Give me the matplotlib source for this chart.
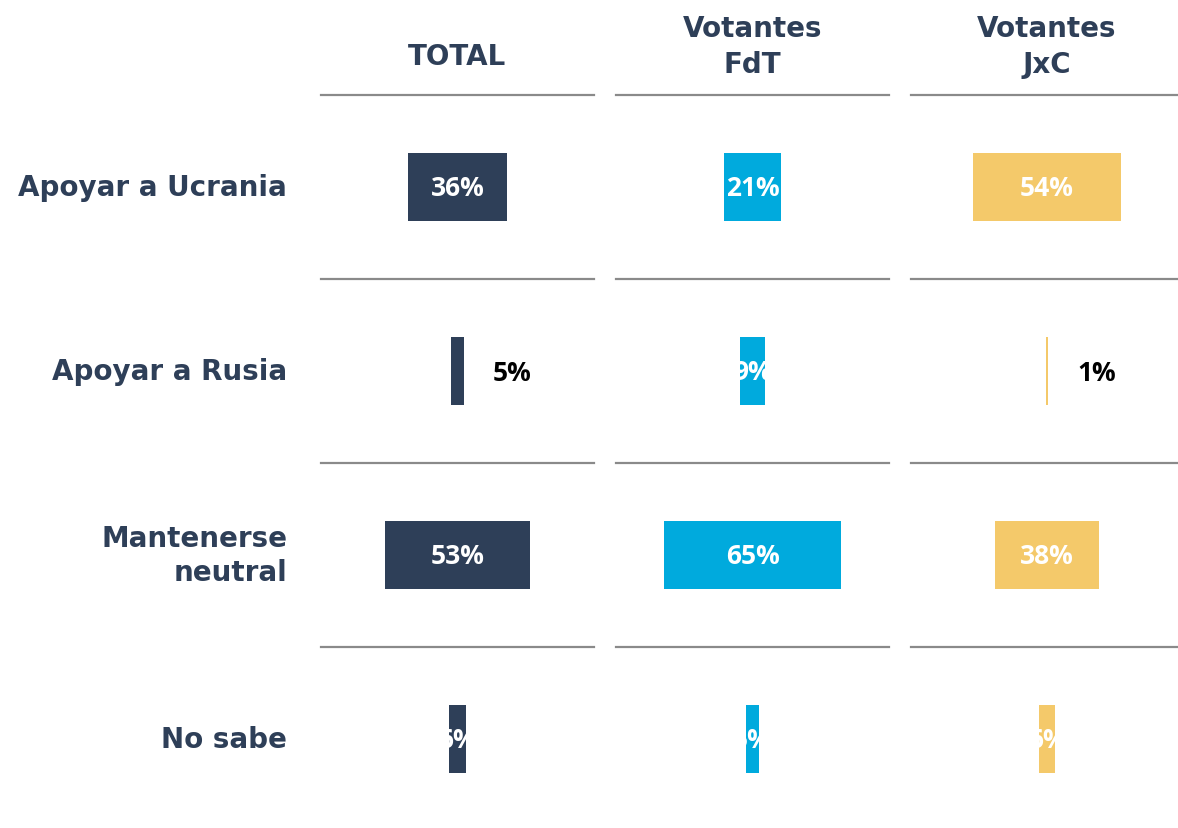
import matplotlib
matplotlib.use("Agg")
import matplotlib.pyplot as plt

# datos
categorias = ["Apoyar a Ucrania", "Apoyar a Rusia", "Mantenerse\nneutral", "No sabe"]
grupos = ["TOTAL", "Votantes\nFdT", "Votantes\nJxC"]
total = [36, 5, 53, 6]
fdt = [21, 9, 65, 5]
jxc = [54, 1, 38, 6]
valores = [total, fdt, jxc]

colores = ["#2E3F58", "#00AADD", "#F4C96A"]
# etiquetas fuera de la barra (igual que el original)
fuera = [[False, True, False, False],
         [False, False, False, False],
         [False, True, False, False]]

TXT = "#2E3F58"
W, H = 1178, 829
PX = 2.73  # pixeles por punto porcentual

fig = plt.figure(figsize=(W / 100, H / 100), dpi=100)

# (izquierda, derecha, centro de las barras) en pixeles
paneles = [(321, 594, 457.5), (616, 889, 752.5), (911, 1177, 1047)]
y_top, y_bot = 96, 832

ejes = []
for i, (x0, x1, xc) in enumerate(paneles):
    ax = fig.add_axes([x0 / W, 1 - y_bot / H, (x1 - x0) / W, (y_bot - y_top) / H])
    ax.set_xlim(-(xc - x0) / PX, (x1 - xc) / PX)
    ax.set_ylim(3.5, -0.5)
    for s in ax.spines.values():
        s.set_visible(False)
    ax.set_xticks([])
    ax.set_yticks([])
    for yl in [-0.5, 0.5, 1.5, 2.5]:
        ax.axhline(yl, color="#8A8A8A", lw=1.6, clip_on=False)

    vals = valores[i]
    bars = ax.barh(range(len(vals)), vals, left=[-v / 2 for v in vals],
                   height=0.37, color=colores[i])
    for j, (b, v) in enumerate(zip(bars, vals)):
        if fuera[i][j]:
            ax.text(v / 2 + 10.5, j + 0.01, f"{v}%", ha="left", va="center",
                    fontsize=19, fontweight="bold", color="black",
                    family="Open Sans")
        else:
            t = ax.text(0, j + 0.005, f"{v}%", ha="center", va="center",
                        fontsize=19, fontweight="bold", color="white",
                        family="Open Sans")
            t.set_clip_path(b)

    ax.text(0, -0.5 - (0.21 if i == 0 else 0.265), grupos[i],
            ha="center", va="center", fontsize=20, fontweight="bold",
            color=TXT, family="DejaVu Sans", linespacing=1.35,
            clip_on=False)
    ejes.append(ax)

x_lab = ejes[0].get_xlim()[0] - 34 / PX
for j, c in enumerate(categorias):
    ejes[0].text(x_lab, j, c, ha="right", va="center",
                 fontsize=20, fontweight="bold", color=TXT, family="DejaVu Sans",
                 linespacing=1.25, clip_on=False)

fig.savefig("out.png", dpi=100)
